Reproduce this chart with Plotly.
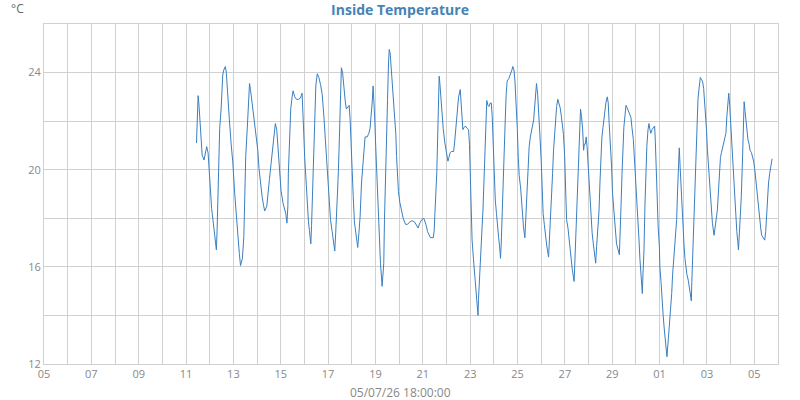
import pandas as pd
import plotly.graph_objects as go

# Time as decimal day of June 2026 (July 1 = 31), temperatures in °C
day = [
    11.44, 11.51, 11.55, 11.59, 11.63, 11.68, 11.76, 11.87, 11.93, 11.97,
    12.01, 12.08, 12.14, 12.18, 12.23, 12.28, 12.31, 12.35, 12.38, 12.42,
    12.48, 12.51, 12.55, 12.59, 12.66, 12.70, 12.76, 12.83, 12.90, 12.97,
    13.06, 13.11, 13.17, 13.21, 13.25, 13.30, 13.38, 13.44, 13.48, 13.52,
    13.59, 13.65, 13.68, 13.72, 13.77, 13.87, 13.94, 14.03, 14.08, 14.15,
    14.21, 14.27, 14.32, 14.41, 14.48, 14.52, 14.59, 14.66, 14.73, 14.77,
    14.83, 14.89, 14.96, 15.01, 15.10, 15.21, 15.26,
    15.30, 15.32, 15.37, 15.42, 15.48, 15.52, 15.59, 15.66, 15.75, 15.83,
    15.90, 15.93, 15.97, 16.01, 16.06, 16.11, 16.17, 16.21, 16.27, 16.30,
    16.34, 16.39, 16.44, 16.48, 16.54, 16.61, 16.68, 16.75, 16.82, 16.90,
    16.96, 17.00, 17.04, 17.10, 17.17, 17.21, 17.28, 17.32, 17.38, 17.42,
    17.46, 17.51, 17.55, 17.56, 17.61, 17.66, 17.73, 17.77, 17.85, 17.89,
    17.93, 17.97, 18.01, 18.06, 18.11, 18.17, 18.25, 18.30, 18.35, 18.41,
    18.46, 18.52, 18.56, 18.65, 18.72, 18.77, 18.82, 18.86, 18.90, 18.93,
    18.97, 19.01, 19.06, 19.11, 19.17, 19.21, 19.28,
    19.35, 19.38, 19.42, 19.46, 19.51, 19.55, 19.58, 19.62, 19.65, 19.70,
    19.76, 19.82, 19.86, 19.89, 19.93, 19.97, 20.03, 20.10, 20.17, 20.27,
    20.35, 20.45, 20.55, 20.65, 20.75, 20.80, 20.87, 20.96, 21.04, 21.13,
    21.20, 21.27, 21.32, 21.44, 21.48, 21.51, 21.55, 21.59, 21.62, 21.65,
    21.69, 21.72, 21.76, 21.82, 21.86, 21.93, 22.00, 22.06, 22.10, 22.15,
    22.21, 22.30, 22.34, 22.39, 22.45, 22.51, 22.58, 22.63, 22.69, 22.75,
    22.80, 22.87, 22.93, 22.97, 23.01, 23.04, 23.08, 23.14, 23.20, 23.27,
    23.33,
    23.35, 23.39, 23.44, 23.49, 23.54, 23.59, 23.63, 23.68, 23.70, 23.75,
    23.79, 23.85, 23.89, 23.93, 23.97, 24.01, 24.06, 24.11, 24.15, 24.20,
    24.24, 24.28, 24.31, 24.35, 24.39, 24.44, 24.48, 24.52, 24.56, 24.63,
    24.70, 24.76, 24.80, 24.85, 24.89, 24.94, 24.99, 25.03, 25.07, 25.13,
    25.17, 25.21, 25.25, 25.31, 25.34, 25.38, 25.42, 25.45, 25.49, 25.54,
    25.58, 25.62, 25.68, 25.72, 25.76, 25.80, 25.85, 25.89, 25.94, 26.00,
    26.04, 26.08, 26.13, 26.17, 26.23, 26.31, 26.35, 26.39, 26.44, 26.48,
    26.52, 26.56, 26.61, 26.65, 26.70, 26.75, 26.80, 26.85, 26.90, 26.94,
    26.99, 27.03, 27.07, 27.13, 27.18, 27.24, 27.31,
    27.39, 27.42, 27.46, 27.51, 27.55, 27.59, 27.63, 27.66, 27.70, 27.75,
    27.79, 27.82, 27.86, 27.90, 27.94, 27.99, 28.03, 28.07, 28.11, 28.15,
    28.20, 28.24, 28.30, 28.34, 28.39, 28.44, 28.48, 28.52, 28.56, 28.61,
    28.65, 28.69, 28.73, 28.79, 28.83, 28.87, 28.93, 28.97, 29.01, 29.06,
    29.10, 29.14, 29.18, 29.30, 29.34, 29.37, 29.41, 29.45, 29.49, 29.54,
    29.58, 29.63, 29.69, 29.75, 29.79, 29.83, 29.89, 29.94, 30.00, 30.04,
    30.08, 30.13, 30.17, 30.21, 30.27, 30.30, 30.34, 30.38, 30.42, 30.46,
    30.51, 30.55, 30.59, 30.63, 30.68, 30.73, 30.79, 30.82, 30.86, 30.90,
    30.94, 30.99, 31.01, 31.06, 31.10, 31.15, 31.20, 31.24, 31.27, 31.31,
    31.37, 31.42, 31.47, 31.51, 31.55, 31.59, 31.64, 31.68, 31.72, 31.76,
    31.80, 31.83, 31.86, 31.90, 31.94, 31.99, 32.03, 32.07, 32.11, 32.15,
    32.21, 32.25, 32.29, 32.34, 32.36, 32.41, 32.45, 32.49, 32.53, 32.58,
    32.62, 32.66, 32.72, 32.77, 32.81, 32.86, 32.90, 32.94, 32.98, 33.02,
    33.07, 33.11, 33.15, 33.19, 33.23, 33.30, 33.33, 33.39, 33.44, 33.49,
    33.53, 33.57, 33.61, 33.65, 33.70, 33.75, 33.80, 33.84, 33.88, 33.92,
    33.96, 34.01, 34.05, 34.09, 34.13, 34.17, 34.22, 34.26, 34.30, 34.33,
    34.37, 34.41, 34.45, 34.50, 34.54, 34.57, 34.61, 34.65, 34.69, 34.73,
    34.78, 34.82, 34.88, 34.93, 34.97, 35.02, 35.06, 35.10, 35.14, 35.18,
    35.23, 35.27, 35.31, 35.37, 35.44, 35.48, 35.52, 35.56, 35.60, 35.65,
    35.69, 35.75,
]
temp = [
    21.1, 23.05, 22.6, 21.85, 21.0, 20.6, 20.4, 20.95, 20.7, 20.0,
    19.45, 18.4, 17.9, 17.5, 17.2, 16.7, 17.5, 19.05, 20.55, 21.7,
    22.5, 23.4, 23.9, 24.1, 24.25, 24.0, 22.95, 22.05, 21.1, 20.35,
    18.95, 18.2, 17.5, 16.95, 16.55, 16.05, 16.35, 17.25, 18.9, 20.55,
    21.8, 23.2, 23.55, 23.3, 22.9, 22.25, 21.65, 20.8, 20.05, 19.3,
    18.9, 18.55, 18.3, 18.5, 19.05, 19.6, 20.25, 20.95, 21.5, 21.9,
    21.65, 20.65, 19.85, 19.15, 18.6, 18.2, 17.8,
    18.5, 19.85, 21.2, 22.5, 23.0, 23.25, 23.0, 22.9, 22.9, 22.95,
    23.15, 22.6, 21.5, 20.5, 19.6, 18.9, 17.85, 17.5, 16.95, 17.7,
    18.95, 20.4, 21.8, 23.45, 23.95, 23.8, 23.5, 23.1, 22.2, 21.1,
    20.25, 19.6, 18.75, 17.95, 17.45, 17.1, 16.65, 17.4, 18.5, 19.6,
    20.8, 22.3, 23.7, 24.2, 24.0, 23.3, 22.75, 22.5, 22.6, 22.65,
    22.05, 20.8, 19.7, 18.9, 17.85, 17.4, 16.8, 17.4, 18.05, 19.45,
    20.25, 21.2, 21.35, 21.35, 21.5, 21.7, 22.2, 22.75, 23.45, 23.0,
    22.05, 20.95, 19.6, 18.05, 17.1, 16.15, 15.2,
    16.15, 17.95, 19.85, 21.5, 22.9, 24.4, 24.95, 24.8, 24.4, 23.85,
    23.0, 22.2, 21.45, 20.55, 19.75, 19.1, 18.65, 18.3, 18.0, 17.75,
    17.75, 17.85, 17.9, 17.85, 17.7, 17.6, 17.8, 17.95, 18.0, 17.75,
    17.45, 17.25, 17.2, 17.2, 17.5, 18.2, 18.9, 19.9, 21.1, 22.45,
    23.85, 23.55, 22.95, 22.35, 21.7, 21.1, 20.7, 20.35, 20.5, 20.7,
    20.75, 20.75, 21.1, 21.75, 22.6, 23.0, 23.3, 22.6, 21.65, 21.75,
    21.8, 21.7, 21.65, 21.05, 19.75, 18.2, 17.1, 16.3, 15.45, 14.65,
    14.0,
    14.65, 15.6, 16.4, 17.4, 18.35, 19.6, 20.8, 22.2, 22.85, 22.65,
    22.6, 22.75, 22.75, 22.2, 20.95, 19.75, 18.75, 18.2, 17.65, 17.2,
    16.85, 16.35, 16.95, 18.35, 19.8, 20.95, 22.05, 23.1, 23.65, 23.75,
    23.9, 24.1, 24.25, 24.1, 23.65, 22.9, 21.7, 20.5, 19.75, 19.25,
    18.7, 18.0, 17.65, 17.2, 17.8, 18.75, 19.75, 20.5, 20.95, 21.35,
    21.65, 21.75, 22.05, 22.55, 23.25, 23.55, 23.1, 22.5, 21.5, 20.35,
    19.05, 18.2, 17.75, 17.3, 16.9, 16.4, 17.1, 17.95, 18.9, 19.85,
    20.8, 21.35, 22.2, 22.6, 22.9, 22.75, 22.55, 22.2, 21.85, 21.45,
    20.55, 18.9, 17.95, 17.6, 17.05, 16.55, 15.9,
    15.4, 16.15, 17.5, 18.95, 20.15, 21.1, 22.05, 22.5, 22.2, 21.65,
    20.8, 21.05, 21.05, 21.35, 20.9, 20.05, 19.25, 18.55, 17.95, 17.4,
    16.95, 16.7, 16.15, 16.85, 17.4, 18.3, 19.45, 20.55, 21.3, 21.75,
    22.15, 22.45, 22.75, 23.0, 22.75, 21.9, 21.1, 20.15, 19.05, 18.3,
    17.8, 17.4, 16.95, 16.5, 17.4, 18.5, 19.8, 20.8, 21.75, 22.25,
    22.65, 22.55, 22.4, 22.25, 22.15, 21.75, 21.25, 20.4, 19.5, 18.9,
    17.95, 17.1, 16.3, 15.75, 14.9, 15.75, 16.7, 18.5, 20.15, 20.95,
    21.65, 21.9, 21.65, 21.5, 21.65, 21.7, 21.8, 21.15, 19.85, 18.55,
    17.6, 16.85, 16.0, 15.4, 14.55, 14.0, 13.4, 13.0, 12.6, 12.3,
    13.05, 13.6, 14.25, 14.9, 15.7, 16.3, 16.7, 17.2, 17.95, 19.2,
    20.25, 20.9, 20.25, 19.4, 18.35, 17.55, 16.9, 16.35, 15.95, 15.7,
    15.45, 15.2, 14.85, 14.6, 15.35, 16.85, 18.35, 19.85, 20.95, 22.15,
    22.9, 23.3, 23.8, 23.7, 23.65, 23.35, 22.9, 22.35, 21.65, 20.8,
    20.0, 19.3, 18.75, 18.3, 17.8, 17.3, 17.55, 17.8, 18.35, 19.2,
    20.0, 20.5, 20.7, 20.9, 21.1, 21.3, 21.5, 22.2, 22.8, 23.15,
    22.65, 21.75, 20.8, 20.05, 19.3, 18.55, 17.95, 17.45, 17.05, 16.7,
    17.4, 17.95, 18.9, 20.4, 22.05, 22.8, 22.4, 22.05, 21.5, 21.25,
    21.05, 20.8, 20.7, 20.55, 20.35, 20.0, 19.6, 19.05, 18.65, 18.25,
    17.95, 17.6, 17.3, 17.2, 17.1, 17.45, 18.2, 18.9, 19.45, 19.85,
    20.2, 20.45,
]

title_text = "Inside Temperature"
unit_text = "°C"
stamp_text = "05/07/26 18:00:00"
x_start = "2026-06-05"
x_end = "2026-07-06"
y_range = [12, 26]

base = pd.Timestamp("2026-05-31")
times = [base + pd.Timedelta(days=d) for d in day]

fig = go.Figure()
fig.add_trace(go.Scatter(
    x=times, y=temp, mode="lines",
    line=dict(color="#3a7fc1", width=1),
    hoverinfo="x+y", showlegend=False,
))

grid = "#d0d0d0"
tickfont = dict(family="Open Sans", size=11, color="#888888")
DAY = 86400000

fig.update_layout(
    width=800, height=400,
    margin=dict(l=44, r=22, t=24, b=36),
    paper_bgcolor="white", plot_bgcolor="white",
    font=dict(family="Open Sans"),
    title=dict(text=f"<b>{title_text}</b>", x=0.5, xanchor="center",
               y=1 - 10 / 400, yanchor="middle",
               font=dict(family="Open Sans", size=14, color="#4682b4")),
    xaxis=dict(
        type="date", range=[x_start, x_end],
        tick0=x_start, dtick=2 * DAY, tickformat="%d",
        showgrid=True, gridcolor=grid, gridwidth=1,
        minor=dict(dtick=DAY, tick0=x_start, showgrid=True, gridcolor=grid, gridwidth=1),
        showline=True, linecolor=grid, linewidth=1, mirror=True,
        ticks="", tickfont=tickfont, zeroline=False,
    ),
    yaxis=dict(
        range=y_range, tick0=12, dtick=4,
        showgrid=True, gridcolor=grid, gridwidth=1,
        minor=dict(dtick=2, tick0=12, showgrid=True, gridcolor=grid, gridwidth=1),
        showline=True, linecolor=grid, linewidth=1, mirror=True,
        ticks="", tickfont=tickfont, zeroline=False,
    ),
    annotations=[
        dict(text=unit_text, xref="paper", yref="paper",
             x=-27 / 734, y=1 + 15 / 340, xanchor="center", yanchor="middle",
             showarrow=False, font=dict(family="Open Sans", size=12, color="#666666")),
        dict(text=stamp_text, xref="paper", yref="paper",
             x=(400 - 44) / 734, y=-28 / 340, xanchor="center", yanchor="middle",
             showarrow=False, font=dict(family="Open Sans", size=12, color="#888888")),
    ],
)

fig.write_html("out.html")
